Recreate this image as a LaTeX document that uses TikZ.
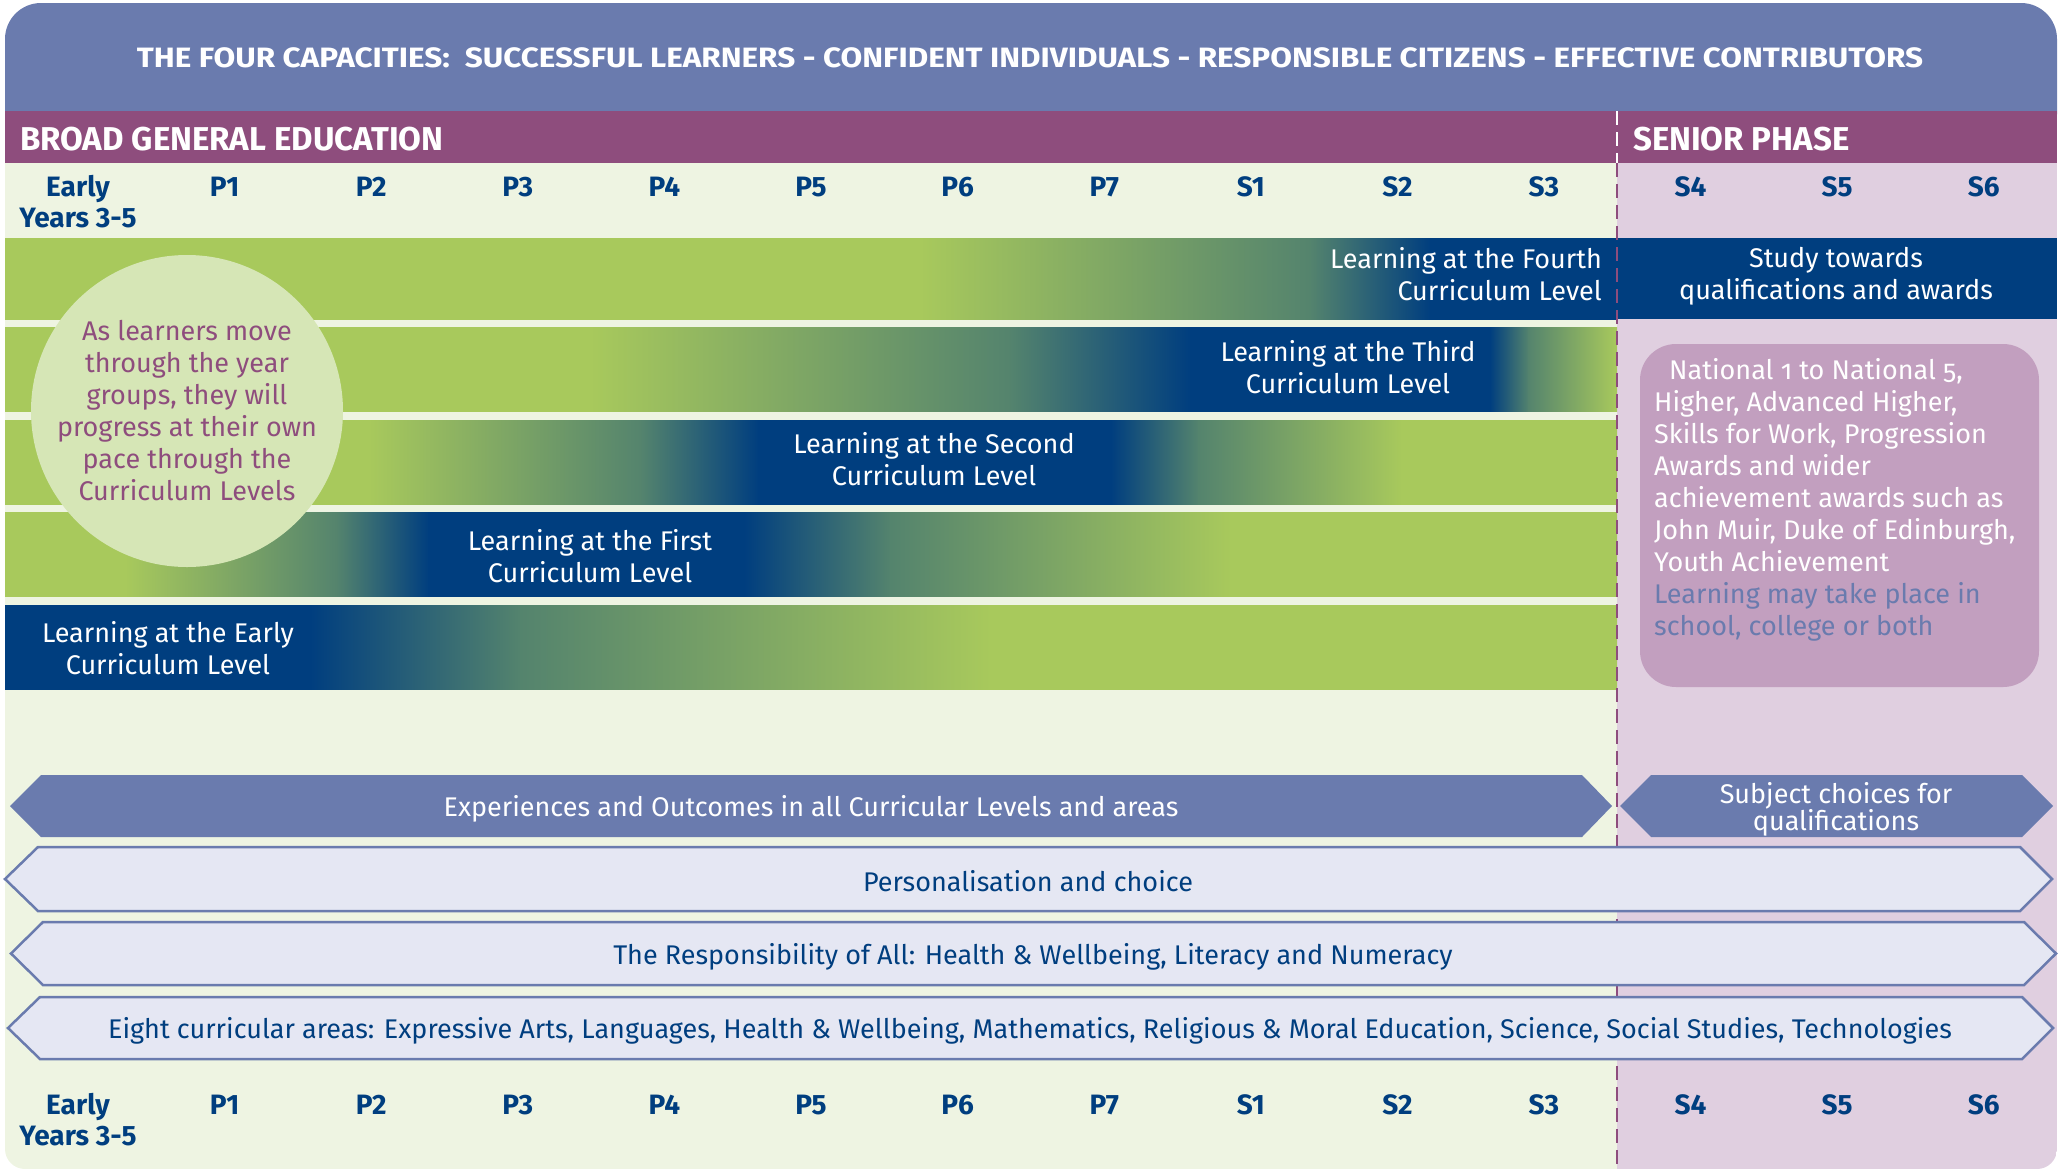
\documentclass[tikz,border=0pt]{standalone}
\usepackage{fontspec}
\setmainfont{Fira Sans}
\newfontfamily\oldstyle[Numbers=OldStyle]{Fira Sans}
\usetikzlibrary{positioning}

\definecolor{capblue}{HTML}{6A7BAE}
\definecolor{phasepurple}{HTML}{8E4D7D}
\definecolor{levelgreen}{HTML}{A8C95C}
\definecolor{levelblue}{HTML}{003E7F}
\definecolor{bgegreen}{HTML}{EEF4E2}
\definecolor{seniorpink}{HTML}{E0CFE0}
\definecolor{circlegreen}{HTML}{D6E6B6}
\definecolor{boxmauve}{HTML}{C29FBF}
\definecolor{bandlilac}{HTML}{E5E7F3}

\begin{document}
\begin{tikzpicture}[x=1pt, y=-1pt,
  yearlabel/.style={font=\fontsize{28}{31}\selectfont\bfseries, text=levelblue, inner sep=0pt},
  leveltext/.style={font=\fontsize{27}{32}\selectfont, text=white, align=center, inner sep=0pt},
  bandtext/.style={font=\fontsize{27}{30}\selectfont, text=levelblue, inner sep=0pt},
  lightband/.style={fill=bandlilac, draw=capblue, line width=2.5pt},
  phasehead/.style={font=\fontsize{33}{36}\selectfont\bfseries, text=white, anchor=west, inner sep=0pt},
  divider/.style={line width=2.5pt, dash pattern=on 14pt off 7pt}
]
\useasboundingbox (0,0) rectangle (2065,1171);

% panels
\fill[capblue, rounded corners=36] (5,3) rectangle (2057,150);
\begin{scope}
  \clip[rounded corners=20] (5,60) rectangle (2057,1169);
  \fill[bgegreen] (5,111) rectangle (1617,1169);
  \fill[seniorpink] (1617,111) rectangle (2057,1169);
  \fill[phasepurple] (5,111) rectangle (2057,163);
\end{scope}

\node[font=\fontsize{28}{30}\selectfont\bfseries, text=white, inner sep=0pt] (capacities) at (1030,58)
  {\scalebox{1.124}[1]{THE FOUR CAPACITIES:\ \ SUCCESSFUL LEARNERS - CONFIDENT INDIVIDUALS - RESPONSIBLE CITIZENS - EFFECTIVE CONTRIBUTORS}};
\node[phasehead] (bge) at (20,139) {BROAD GENERAL EDUCATION};
\node[phasehead] (senior) at (1633,139) {SENIOR PHASE};

% year rows, top and bottom
\node[yearlabel, anchor=base] (topearly) at (78,196) {Early};
\node[yearlabel, anchor=base] (topyears) at (78,227) {Years 3-5};
\node[yearlabel, anchor=base] (botearly) at (78,1114) {Early};
\node[yearlabel, anchor=base] (botyears) at (78,1145) {Years 3-5};
\foreach \yr [count=\i] in {P1,P2,P3,P4,P5,P6,P7,S1,S2,S3,S4,S5,S6} {
  \node[yearlabel, anchor=base] (top\yr) at ({78+146.6*\i},196) {\yr};
  \node[yearlabel, anchor=base] (bot\yr) at ({78+146.6*\i},1114) {\yr};
}

% curriculum level bars
\colorlet{G}{levelgreen}
\colorlet{B}{levelblue}
\colorlet{M}{levelgreen!50!levelblue}
\foreach \xa/\ca/\xb/\cb in {5/G/920/G, 920/G/1310/M, 1310/M/1430/B, 1430/B/1617/B}
  \shade[left color=\ca, right color=\cb] (\xa,238) rectangle ({min(\xb+1,1617)},319);
\foreach \xa/\ca/\xb/\cb in {5/G/590/G, 590/G/1010/M, 1010/M/1190/B, 1190/B/1490/B, 1490/B/1528/M, 1528/M/1617/G}
  \shade[left color=\ca, right color=\cb] (\xa,327) rectangle ({min(\xb+1,1617)},411);
\foreach \xa/\ca/\xb/\cb in {5/G/369/G, 369/G/641/M, 641/M/758/B, 758/B/1111/B, 1111/B/1198/M, 1198/M/1401/G, 1401/G/1617/G}
  \shade[left color=\ca, right color=\cb] (\xa,420) rectangle ({min(\xb+1,1617)},504);
\foreach \xa/\ca/\xb/\cb in {5/G/125/G, 125/G/337/M, 337/M/428/B, 428/B/744/B, 744/B/890/M, 890/M/1230/G, 1230/G/1617/G}
  \shade[left color=\ca, right color=\cb] (\xa,512) rectangle ({min(\xb+1,1617)},596);
\foreach \xa/\ca/\xb/\cb in {5/B/310/B, 310/B/520/M, 520/M/990/G, 990/G/1617/G}
  \shade[left color=\ca, right color=\cb] (\xa,605) rectangle ({min(\xb+1,1617)},689);
\fill[levelblue] (1617,238) rectangle (2057,319);

\node[leveltext, align=right, anchor=east] (fourth) at (1602,274) {Learning at the Fourth\\Curriculum Level};
\node[leveltext] (third) at (1348,367) {Learning at the Third\\Curriculum Level};
\node[leveltext] (second) at (934,459) {Learning at the Second\\Curriculum Level};
\node[leveltext] (first) at (590,556) {Learning at the First\\Curriculum Level};
\node[leveltext] (early) at (168,648) {Learning at the Early\\Curriculum Level};
\node[leveltext] (study) at (1836,276) {Study towards\\qualifications and awards};

% pace circle
\node[circle, fill=circlegreen, minimum size=312pt, inner sep=0pt] (pace) at (187,411) {};
\node[leveltext, text=phasepurple] (pacetext) at (pace.center)
  {As learners move\\through the year\\groups, they will\\progress at their own\\pace through the\\Curriculum Levels};

% qualifications box
\fill[boxmauve, rounded corners=36] (1640,344) rectangle (2039,687);
\node[font=\oldstyle\fontsize{27}{32}\selectfont, text=white, align=left, anchor=north west, inner sep=0pt] (quals) at (1654,358)
  {\hspace*{15pt}National 1 to National 5,\\Higher, Advanced Higher,\\Skills for Work, Progression\\Awards and wider\\achievement awards such as\\John Muir, Duke of Edinburgh,\\Youth Achievement\\
   \textcolor{capblue}{Learning may take place in}\\\textcolor{capblue}{school, college or both}};

% phase divider
\draw[divider, white] (1617,111) -- (1617,163);
\draw[divider, phasepurple] (1617,163) -- (1617,1169);

% bands
\fill[capblue] (10,806) -- (41,775) -- (1582,775) -- (1612,806) -- (1582,837) -- (41,837) -- cycle;
\node[bandtext, text=white] (outcomes) at (811,809) {Experiences and Outcomes in all Curricular Levels and areas};
\fill[capblue] (1620,806) -- (1651,775) -- (2022,775) -- (2053,806) -- (2022,837) -- (1651,837) -- cycle;
\node[bandtext, text=white, align=center, font=\fontsize{27}{27}\selectfont] (subjects) at (1836,809) {Subject choices for\\qualifications};

\draw[lightband] (5,879) -- (38,847) -- (2020,847) -- (2052,879) -- (2020,911) -- (38,911) -- cycle;
\node[bandtext] (personal) at (1028,881) {Personalisation and choice};
\draw[lightband] (11,953.5) -- (43,922) -- (2024,922) -- (2056,953.5) -- (2024,985) -- (43,985) -- cycle;
\node[bandtext] (allresp) at (1033,957) {The Responsibility of All: Health \& Wellbeing, Literacy and Numeracy};
\draw[lightband] (8,1028) -- (40,997) -- (2022,997) -- (2053,1028) -- (2022,1059) -- (40,1059) -- cycle;
\node[bandtext] (areas) at (1030,1031) {Eight curricular areas: Expressive Arts, Languages, Health \& Wellbeing, Mathematics, Religious \& Moral Education, Science, Social Studies, Technologies};
\end{tikzpicture}
\end{document}
